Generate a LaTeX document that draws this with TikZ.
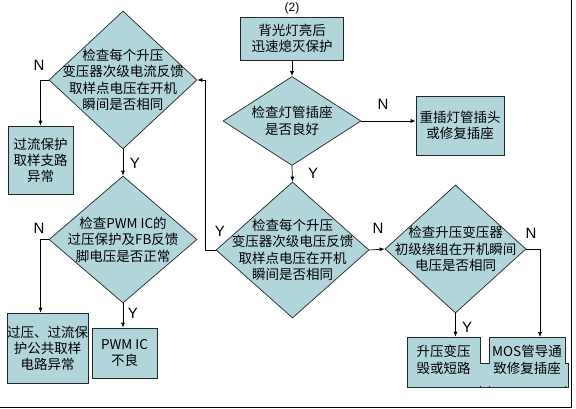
\documentclass[tikz,border=0pt]{standalone}
\usepackage{fontspec}
\setmainfont{Noto Sans CJK SC}
\newfontfamily\latinfont{Liberation Sans}
\usetikzlibrary{shapes.geometric}
\usetikzlibrary{arrows.meta}

\definecolor{boxfill}{RGB}{176,214,220}
\tikzset{
  chk/.style={diamond, draw=black!85, fill=boxfill, inner sep=0pt, line width=0.7pt},
  res/.style={rectangle, draw=black!85, fill=boxfill, inner sep=0pt, line width=0.7pt,
    align=center, font=\fontsize{13.5}{16}\selectfont},
  txt/.style={align=center, inner sep=0pt, font=\fontsize{13.5}{16.5}\selectfont},
  yn/.style={inner sep=0pt, font=\latinfont\fontsize{15}{15}\selectfont},
  arr/.style={-{Latex[length=5pt,width=4pt]}, line width=0.7pt},
  ln/.style={line width=0.7pt}
}

\begin{document}
\begin{tikzpicture}[x=1pt,y=-1pt]
	\useasboundingbox (0,0) rectangle (576,408);
	
	% decisions
	\node[chk, minimum width=148pt, minimum height=138pt] (d1) at (123,80) {};
	\node[txt] (t1) at (d1) {检查每个升压\\变压器次级电流反馈\\取样点电压在开机\\瞬间是否相同};
	\node[chk, minimum width=148pt, minimum height=127pt] (d2) at (123,239.5) {};
	\node[txt] (t2) at (d2) {检查PWM IC的\\过压保护及FB反馈\\脚电压是否正常};
	\node[chk, minimum width=138pt, minimum height=89pt] (d3) at (292,121) {};
	\node[txt] (t3) at (d3) {检查灯管插座\\是否良好};
	\node[chk, minimum width=153pt, minimum height=136pt] (d4) at (292.5,250) {};
	\node[txt] (t4) at (d4) {检查每个升压\\变压器次级电压反馈\\取样点电压在开机\\瞬间是否相同};
	\node[chk, minimum width=141pt, minimum height=128pt] (d5) at (455.5,249) {};
	\node[txt] (t5) at (d5) {检查升压变压器\\初级绕组在开机瞬间\\电压是否相同};
	
	% boxes
	\node[res, minimum width=103pt, minimum height=43pt] (top) at (292,38.5) {背光灯亮后\\迅速熄灭保护};
	\node[res, minimum width=65pt, minimum height=68pt] (bx1) at (40.5,160) {过流保护\\取样支路\\异常};
	\node[res, minimum width=79pt, minimum height=70pt] (bx2) at (47.5,348) {过压、过流保\\护公共取样\\电路异常};
	\node[res, minimum width=65pt, minimum height=50pt] (bx3) at (124.5,353) {PWM IC\\不良};
	\node[res, minimum width=88pt, minimum height=59pt] (bx4) at (460,125.5) {重插灯管插头\\或修复插座};
	
	\fill[boxfill, draw=black!85, ln] (407,363) rectangle (568,387);
	\node[res, minimum width=73pt, minimum height=50pt] (bx6) at (443.5,362) {};
	\node[res, minimum width=76pt, minimum height=50pt] (bx7) at (527,362) {};
	\fill[boxfill] (408,364) rectangle (567,386.3);
	\node[txt] (t6) at (443.5,360) {升压变压\\毁或短路};
	\node[txt] (t7) at (527,360) {MOS管导通\\致修复插座};
	
	\node[yn, font=\latinfont\fontsize{12}{12}\selectfont] (num) at (292,8) {(2)};
	
	% connectors
	\coordinate (k7) at (540,337);
	\draw[arr] (top.south) -- (d3.north);
	\draw[arr] (d1.west) -| (bx1.north);
	\draw[arr] (d1.south) -- (d2.north);
	\draw[arr] (d2.west) -| (bx1.south |- bx2.north);
	\draw[arr] (d2.south) -- (d2.south |- bx3.north);
	\draw[arr] (d3.east) -- (d3.east -| bx4.west);
	\draw[arr] (d3.south) -- (d4.north);
	\draw[arr] (d4.west) -- ++(-10,0) |- (d1.east);
	\draw[arr] (d4.east) -- (d5.west);
	\draw[arr] (d5.south) -- (d5.south |- bx6.north);
	\draw[arr] (d5.east) -| (k7);
	
	% labels
	\node[yn] (n1) at (39,65) {N};
	\node[yn] (y1) at (135,163) {Y};
	\node[yn] (n2) at (39,228) {N};
	\node[yn] (y2) at (133,313) {Y};
	\node[yn] (n3) at (383,104) {N};
	\node[yn] (y3) at (313,173) {Y};
	\node[yn] (y4) at (220,231) {Y};
	\node[yn] (n4) at (378,228) {N};
	\node[yn] (n5) at (531,233) {N};
	\node[yn] (y5) at (467,327) {Y};
	
	\draw[line width=1pt] (571,0) -- (571,407) -- (0,407);
\end{tikzpicture}
\end{document}
